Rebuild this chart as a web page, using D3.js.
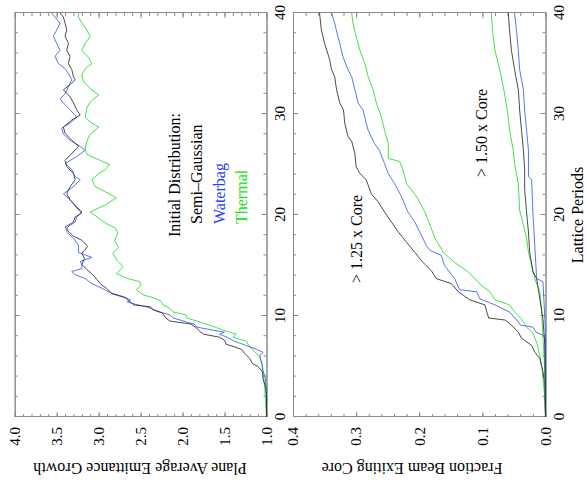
<!DOCTYPE html>
<html><head><meta charset="utf-8">
<script src="https://cdn.jsdelivr.net/npm/d3@7"></script>
<style>body{margin:0;background:#fff}svg{display:block}</style>
</head><body><svg id="c" width="587" height="487"></svg>
<script>
// ---------- data ----------
const periodTicks = [0, 10, 20, 30, 40];
const emitTicks = [1.0, 1.5, 2.0, 2.5, 3.0, 3.5, 4.0];
const fracTicks = [0.0, 0.1, 0.2, 0.3, 0.4];
const seriesNames = ["Semi\u2013Gaussian", "Waterbag", "Thermal"];

// [lattice period, plane average emittance growth]
const semiGaussEmit = [[0,1.0],[1,1.0],[2,1.0],[3,1.01],[3.7,1.04],[4.5,1.05],[5,1.1],[5.3,1.17],[5.8,1.2],[6.3,1.26],[6.7,1.3],[7,1.4],[7.2,1.48],[7.6,1.5],[7.9,1.56],[8.2,1.75],[8.5,1.8],[8.8,1.83],[9.2,1.9],[9.5,2.15],[9.8,2.2],[10.3,2.24],[10.6,2.35],[10.9,2.38],[11.1,2.58],[11.5,2.64],[11.8,2.68],[12.2,2.84],[12.7,2.9],[13.2,2.98],[13.6,3.02],[14,3.06],[14.6,3.14],[15.1,3.2],[15.7,3.17],[16.2,3.2],[16.9,3.13],[17.5,3.2],[17.9,3.3],[18.4,3.36],[18.8,3.4],[19.3,3.3],[19.8,3.28],[20.2,3.2],[20.8,3.27],[21.5,3.34],[22.1,3.38],[22.8,3.34],[23.5,3.28],[24.1,3.3],[24.8,3.38],[25.4,3.4],[26.1,3.32],[26.8,3.24],[27.4,3.32],[28.1,3.4],[28.7,3.42],[29.4,3.32],[29.9,3.22],[30.4,3.26],[31.1,3.3],[31.7,3.34],[32.4,3.42],[32.9,3.34],[33.4,3.28],[33.7,3.3],[34.4,3.32],[35,3.36],[35.7,3.34],[36.3,3.38],[37,3.36],[37.7,3.4],[38.3,3.38],[39,3.4],[39.6,3.42],[40,3.46]];
const waterbagEmit = [[0,1.0],[2,1.0],[3.5,1.01],[4.2,1.02],[4.6,1.05],[5.2,1.05],[5.7,1.07],[6.1,1.08],[6.4,1.04],[6.7,1.12],[7.1,1.25],[7.5,1.38],[7.9,1.47],[8.2,1.56],[8.4,1.5],[8.6,1.64],[8.9,1.83],[9.2,1.86],[9.4,1.95],[9.8,2.11],[10.1,2.15],[10.4,2.27],[10.9,2.43],[11.2,2.58],[11.4,2.66],[11.6,2.62],[11.9,2.7],[12.3,2.86],[12.7,2.95],[13.2,3.08],[13.7,3.16],[14.1,3.28],[14.4,3.32],[14.7,3.2],[15.1,3.2],[15.4,3.22],[15.8,3.08],[16.3,3.24],[17,3.24],[17.7,3.3],[18.3,3.38],[18.8,3.37],[19.3,3.28],[19.8,3.26],[20.3,3.2],[20.8,3.26],[21.5,3.34],[22.1,3.42],[22.8,3.3],[23.5,3.22],[23.8,3.28],[24.5,3.32],[25.1,3.4],[25.8,3.26],[26.4,3.16],[26.8,3.22],[27.4,3.34],[28,3.42],[28.6,3.44],[29.1,3.34],[29.7,3.26],[30.4,3.34],[31.1,3.42],[31.5,3.46],[32,3.4],[32.7,3.36],[33.4,3.32],[34,3.36],[34.5,3.4],[35,3.48],[35.7,3.52],[36.3,3.46],[37,3.5],[37.7,3.54],[38.3,3.5],[39,3.46],[39.6,3.52],[40,3.56]];
const thermalEmit = [[0,1.0],[2.7,1.02],[4.7,1.04],[6,1.08],[6.6,1.16],[7.2,1.22],[7.5,1.24],[7.9,1.4],[8.2,1.36],[8.4,1.44],[8.8,1.58],[9.1,1.68],[9.4,1.79],[9.8,1.95],[10.1,1.96],[10.4,2.11],[10.8,2.16],[11.1,2.23],[11.5,2.26],[11.8,2.35],[12.1,2.47],[12.6,2.55],[13,2.5],[13.4,2.51],[13.7,2.65],[14.2,2.79],[14.6,2.74],[14.9,2.71],[15.5,2.78],[16.2,2.83],[16.8,2.76],[17.5,2.81],[18.2,2.77],[18.7,2.8],[19.2,2.92],[19.7,3.0],[20.3,3.1],[21,2.92],[21.7,2.79],[22.3,2.92],[22.8,3.04],[23.5,3.08],[24.1,3.0],[24.5,2.92],[25,2.87],[25.4,2.98],[26,3.14],[26.6,3.16],[27.3,3.14],[28,3.1],[28.7,3.0],[29.2,3.1],[29.7,3.16],[30.6,3.14],[31.2,3.1],[31.9,3.0],[32.5,3.1],[33.2,3.18],[33.9,3.2],[34.5,3.16],[35,3.08],[35.6,3.12],[36.3,3.2],[37,3.16],[37.7,3.1],[38.3,3.14],[39,3.2],[39.6,3.24],[40,3.24]];

// [lattice period, fraction of beam exiting core] (> 1.25 x core)
const semiGauss125 = [[0,0],[3.1,0.001],[4.5,0.004],[5.8,0.009],[6.4,0.017],[7.1,0.022],[7.8,0.038],[8.4,0.043],[9.1,0.054],[9.6,0.064],[9.8,0.09],[10.4,0.093],[11.1,0.096],[11.6,0.12],[12.4,0.138],[13.2,0.149],[13.7,0.173],[14.5,0.181],[15.3,0.194],[16.3,0.207],[17.3,0.22],[18.3,0.233],[19.3,0.244],[20.3,0.255],[21.3,0.265],[22.1,0.276],[23.5,0.284],[24.1,0.294],[24.8,0.3],[26.1,0.302],[27.3,0.307],[27.8,0.313],[29.1,0.318],[30.4,0.32],[31.1,0.326],[32.4,0.331],[33.7,0.334],[34.4,0.339],[35.4,0.342],[37,0.35],[38.3,0.355],[40,0.358]];
const waterbag125 = [[0,0],[7.8,0.001],[8.1,0.004],[8.4,0.015],[8.9,0.02],[9.1,0.04],[9.4,0.043],[10.4,0.057],[11.1,0.08],[11.7,0.104],[12.4,0.109],[12.6,0.136],[13.7,0.144],[15,0.16],[16,0.165],[16.5,0.183],[17,0.189],[18.3,0.199],[19.3,0.207],[20.3,0.218],[21.8,0.228],[23.1,0.239],[24.1,0.249],[25.1,0.255],[26.4,0.263],[27.1,0.271],[28.4,0.281],[29.1,0.284],[30.4,0.289],[31.1,0.297],[32.4,0.302],[33.7,0.307],[34.4,0.313],[35.7,0.321],[37,0.326],[37.7,0.329],[39,0.334],[40,0.339]];
const thermal125 = [[0,0],[2.5,0.002],[4.5,0.005],[6.1,0.009],[7.4,0.014],[8.3,0.02],[8.9,0.03],[9.7,0.038],[10.4,0.049],[11.1,0.057],[11.6,0.08],[12.4,0.088],[13,0.101],[14.4,0.123],[15.3,0.144],[16.3,0.162],[17.7,0.175],[19,0.183],[20.3,0.191],[21.8,0.204],[23.1,0.22],[24.5,0.226],[25.3,0.231],[25.6,0.249],[27.1,0.249],[28.4,0.255],[29.7,0.26],[31.1,0.268],[32.4,0.273],[33.7,0.281],[35,0.286],[36.3,0.294],[37.7,0.3],[39,0.305],[40,0.307]];

// (> 1.50 x core)
const semiGauss150 = [[0,0],[7.1,0.001],[9.7,0.004],[11.7,0.009],[13.7,0.014],[14.4,0.02],[16.3,0.025],[18.3,0.027],[20.3,0.03],[22.5,0.033],[24.5,0.033],[26.4,0.035],[28.4,0.038],[30.4,0.041],[32.4,0.043],[34.4,0.049],[36.3,0.054],[38.3,0.057],[40,0.059]];
const waterbag150 = [[0,0],[8.1,0.0],[9.7,0.001],[13.4,0.004],[13.7,0.014],[17,0.017],[20.3,0.02],[23.5,0.022],[23.8,0.027],[26.4,0.027],[28.4,0.03],[30.4,0.033],[32.4,0.035],[34.4,0.041],[36.3,0.043],[38.3,0.046],[40,0.049]];
const thermal150 = [[0,0],[4.5,0.001],[7.8,0.004],[10.4,0.006],[12.4,0.009],[13.7,0.017],[15,0.022],[16.3,0.027],[17.7,0.03],[19,0.035],[20.5,0.041],[23.1,0.043],[25.1,0.049],[26.4,0.051],[28.4,0.057],[29.7,0.059],[31.7,0.064],[33.7,0.07],[35,0.075],[36.3,0.08],[37.7,0.083],[40,0.086]];

const colors = ["#2a2a2a", "#3a5cf0", "#22dd22"];
const textColors = ["#000000", "#2244ee", "#22dd22"];
const FONT = "'Liberation Serif', 'Times New Roman', Times, serif";

// ---------- drawing (drawn upright, then rotated 90deg CCW) ----------
const svg = d3.select("#c");
const g = svg.append("g").attr("transform", "translate(0,487) rotate(-90)");

const xP = d3.scaleLinear().domain([0, 40]).range([70, 474]);
const yE = d3.scaleLinear().domain([1, 4]).range([266.5, 14.7]);
const yF = d3.scaleLinear().domain([0, 0.4]).range([545.5, 293]);
const frameColor = "#8a8a8a";

function txt(sel) { return sel.style("font-family", FONT); }

function panel(y, major, minorStep, fmt, title, titleCenter) {
  const [yb, yt] = y.range();
  const [d0, d1] = y.domain();
  const minor = d3.range(d0, d1 + minorStep / 2, minorStep);
  const axes = [
    [d3.axisBottom(xP).tickValues(periodTicks).tickSize(-5).tickPadding(8).tickFormat(d3.format("d")), `translate(0,${yb})`],
    [d3.axisBottom(xP).tickValues(d3.range(0, 41, 2)).tickSize(-3).tickFormat(""), `translate(0,${yb})`],
    [d3.axisTop(xP).tickValues(periodTicks).tickSize(-5).tickFormat(""), `translate(0,${yt})`],
    [d3.axisTop(xP).tickValues(d3.range(0, 41, 2)).tickSize(-3).tickFormat(""), `translate(0,${yt})`],
    [d3.axisLeft(y).tickValues(major).tickSize(-5).tickPadding(10).tickFormat(fmt), `translate(${xP.range()[0]},0)`],
    [d3.axisLeft(y).tickValues(minor).tickSize(-3).tickFormat(""), `translate(${xP.range()[0]},0)`],
    [d3.axisRight(y).tickValues(major).tickSize(-5).tickFormat(""), `translate(${xP.range()[1]},0)`],
    [d3.axisRight(y).tickValues(minor).tickSize(-3).tickFormat(""), `translate(${xP.range()[1]},0)`]
  ];
  axes.forEach(([ax, tr]) => {
    const a = g.append("g").attr("transform", tr).call(ax.tickSizeOuter(0));
    a.attr("font-family", null).attr("font-size", null);
    a.selectAll("path.domain").attr("stroke", frameColor).attr("stroke-width", 1);
    a.selectAll(".tick line").attr("stroke", frameColor);
    txt(a.selectAll(".tick text")).attr("font-size", 15).attr("fill", "#000");
  });
  txt(g.append("text")).attr("transform", `translate(${24},${titleCenter}) rotate(-90)`)
    .attr("text-anchor", "middle").attr("font-size", 16).text(title);
}

panel(yE, emitTicks, 0.1, d3.format(".1f"), "Plane Average Emittance Growth", 140);
panel(yF, fracTicks, 0.02, d3.format(".1f"), "Fraction Beam Exiting Core", 412);

txt(g.append("text")).attr("x", (xP.range()[0] + xP.range()[1]) / 2).attr("y", 583)
  .attr("text-anchor", "middle").attr("font-size", 16).text("Lattice Periods");

function drawLine(data, y, color) {
  g.append("path").datum(data)
    .attr("fill", "none").attr("stroke", color).attr("stroke-width", 0.85)
    .attr("d", d3.line().x(d => xP(d[0])).y(d => y(d[1])));
}
[thermalEmit, waterbagEmit, semiGaussEmit].forEach((s, i) => drawLine(s, yE, colors[2 - i]));
[thermal125, waterbag125, semiGauss125].forEach((s, i) => drawLine(s, yF, colors[2 - i]));
[thermal150, waterbag150, semiGauss150].forEach((s, i) => drawLine(s, yF, colors[2 - i]));

// legend
txt(g.append("text")).attr("x", 250).attr("y", 180).attr("font-size", 16).text("Initial Distribution:");
seriesNames.forEach((n, i) => {
  txt(g.append("text")).attr("x", 263).attr("y", 202 + i * 22.5).attr("font-size", 16)
    .attr("fill", textColors[i]).text(n);
});

// annotations
txt(g.append("text")).attr("x", 204).attr("y", 362).attr("font-size", 16).text("> 1.25 x Core");
txt(g.append("text")).attr("x", 310).attr("y", 487).attr("font-size", 16).text("> 1.50 x Core");
</script>
</body></html>
